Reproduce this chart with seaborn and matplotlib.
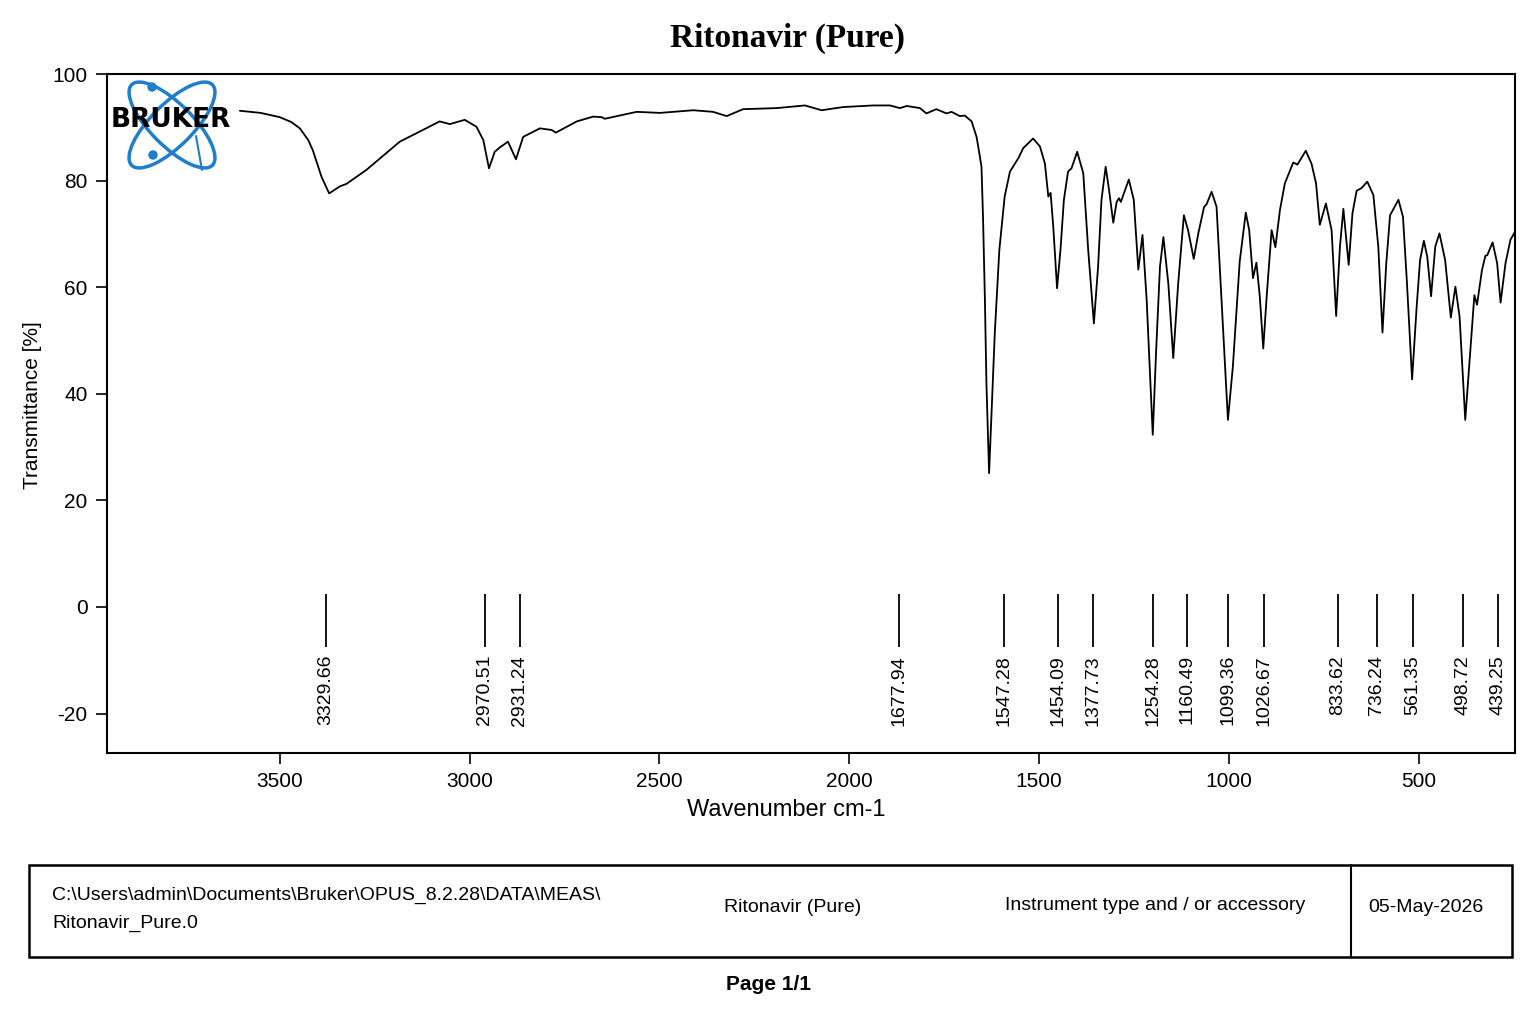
import numpy as np
import pandas as pd
import matplotlib
matplotlib.use('Agg')
import matplotlib.pyplot as plt
from matplotlib.patches import Ellipse, Rectangle, Circle
from matplotlib.lines import Line2D
import seaborn as sns

# spectrum (wavenumber cm-1, transmittance %)
wavenumber = [3605, 3550, 3500, 3470, 3447, 3425, 3413, 3390, 3370, 3342, 3324, 3272, 3184, 3079, 3052, 3013,
              2982, 2964, 2949, 2934, 2921, 2899, 2878, 2859, 2815, 2784, 2773, 2718, 2675, 2652,
              2644, 2560, 2499, 2411, 2359, 2323, 2280, 2192, 2117, 2073, 2016, 1937, 1893, 1867,
              1849, 1814, 1797, 1771, 1744, 1731, 1709, 1696, 1678, 1665, 1659, 1652, 1648, 1643,
              1639, 1632, 1626, 1617, 1605, 1591, 1577, 1555, 1542, 1516, 1498, 1485, 1476, 1470,
              1463, 1453, 1444, 1435, 1424, 1415, 1400, 1384, 1371, 1356, 1345, 1336, 1325, 1316,
              1305, 1296, 1290, 1285, 1264, 1251, 1239, 1228, 1217, 1201, 1192, 1182, 1173, 1160,
              1147, 1134, 1119, 1108, 1093, 1081, 1066, 1059, 1046, 1033, 1020, 1003, 990, 972,
              956, 947, 937, 928, 919, 910, 901, 888, 878, 866, 853, 831, 820, 798, 783, 771, 761,
              745, 730, 718, 708, 699, 685, 675, 664, 651, 636, 620, 607, 596, 586, 576, 554, 542,
              532, 518, 506, 497, 487, 478, 468, 457, 446, 431, 416, 404, 393, 378, 367, 354, 347,
              334, 325, 320, 306, 294, 285, 272, 259, 247]
transmittance = [93.1, 92.7, 91.9, 91.0, 89.8, 87.6, 85.7, 80.7, 77.6, 78.9, 79.4, 82.0, 87.3, 91.1, 90.6, 91.4,
                 90.1, 87.6, 82.3, 85.4, 86.2, 87.3, 84.0, 88.2, 89.8, 89.5, 89.0, 91.1, 92.0, 91.9,
                 91.6, 92.9, 92.7, 93.2, 92.9, 92.1, 93.4, 93.6, 94.1, 93.2, 93.8, 94.1, 94.1, 93.6,
                 94.0, 93.6, 92.6, 93.4, 92.6, 92.9, 92.1, 92.2, 91.1, 88.2, 85.7, 82.6, 73.2, 57.6,
                 42.0, 25.1, 35.7, 51.4, 67.0, 77.0, 81.7, 84.2, 86.1, 87.9, 86.4, 83.2, 77.0, 77.7,
                 71.4, 59.8, 67.0, 76.4, 81.7, 82.3, 85.4, 81.4, 67.0, 53.2, 63.8, 76.4, 82.6, 78.2,
                 72.1, 76.0, 76.7, 76.0, 80.2, 76.4, 63.3, 69.8, 57.6, 32.3, 48.2, 63.8, 69.4, 60.7,
                 46.7, 60.7, 73.5, 70.7, 65.3, 70.1, 75.0, 75.6, 77.9, 75.1, 57.6, 35.1, 45.1, 64.8,
                 74.0, 70.7, 61.7, 64.6, 58.2, 48.5, 58.2, 70.7, 67.5, 74.5, 79.5, 83.4, 83.0, 85.6,
                 83.2, 79.5, 71.7, 75.7, 70.7, 54.6, 67.6, 74.7, 64.2, 73.9, 78.1, 78.6, 79.8, 77.3,
                 67.6, 51.5, 64.5, 73.5, 76.4, 73.2, 61.4, 42.7, 56.3, 65.1, 68.7, 65.7, 58.3, 67.6,
                 70.1, 65.1, 54.3, 60.1, 54.5, 35.1, 45.7, 58.5, 56.7, 63.2, 65.9, 66.0, 68.4, 64.5,
                 57.1, 64.5, 68.9, 70.4]

# peak markers: where the ticks sit on the axis, and the labels printed under them
peak_pos = [3379, 2960, 2868, 1870, 1593, 1451, 1359, 1201, 1111, 1003, 908, 713, 611, 516, 384, 292]
peak_labels = ['3329.66', '2970.51', '2931.24', '1677.94', '1547.28', '1454.09', '1377.73', '1254.28',
               '1160.49', '1099.36', '1026.67', '833.62', '736.24', '561.35', '498.72', '439.25']

x_ticks = [3500, 3000, 2500, 2000, 1500, 1000, 500]
y_ticks = [100, 80, 60, 40, 20, 0, -20]

sns.set_theme(style='ticks')
plt.rcParams['font.family'] = ['Liberation Sans', 'DejaVu Sans']
plt.rcParams['text.color'] = 'black'
plt.rcParams['axes.labelcolor'] = 'black'
plt.rcParams['axes.unicode_minus'] = False

df = pd.DataFrame({'wn': wavenumber, 'T': transmittance})

fig = plt.figure(figsize=(15.36, 10.24), dpi=100)
ax = fig.add_axes([107 / 1536, 1 - 753 / 1024, 1408 / 1536, 679 / 1024])

sns.lineplot(data=df, x='wn', y='T', sort=False, estimator=None, color='black', linewidth=1.3, ax=ax)

ax.vlines(peak_pos, -7.5, 2.4, color='black', linewidth=1.3)
for p, lab in zip(peak_pos, peak_labels):
    ax.text(p, -9.0, lab, rotation=90, ha='center', va='top', fontsize=14, color='black')

ax.set_xlim(3955, 247)
ax.set_ylim(-27.4, 100)
ax.set_xticks(x_ticks)
ax.set_yticks(y_ticks)
ax.tick_params(axis='both', direction='out', length=8, width=1.2, labelsize=15, colors='black', pad=6)
for s in ax.spines.values():
    s.set_visible(True)
    s.set_linewidth(1.5)
    s.set_color('black')

ax.set_xlabel('Wavenumber cm-1', fontsize=17, color='black')
ax.set_ylabel('Transmittance [%]', fontsize=15, color='black')
ax.xaxis.set_label_coords((786 - 107) / 1408, (753 - 799) / 679)
ax.yaxis.set_label_coords((42 - 107) / 1408, (753 - 405) / 679)

fig.text(0.5124, 0.963, 'Ritonavir (Pure)', ha='center', va='center', fontsize=24,
         fontweight='bold', family=['Liberation Serif', 'DejaVu Serif'])

# logo
lax = fig.add_axes([105 / 1536, 1 - 172 / 1024, 135 / 1536, 94 / 1024])
lax.set_xlim(0, 135)
lax.set_ylim(94, 0)
lax.axis('off')
blue = '#1f7fcc'
lax.add_patch(Ellipse((67, 47), 114, 42, angle=45, fill=False, edgecolor=blue, linewidth=2.5))
lax.add_patch(Ellipse((67, 47), 114, 42, angle=-45, fill=False, edgecolor=blue, linewidth=2.5))
lax.add_patch(Circle((47, 9), 4, color=blue))
lax.add_patch(Circle((48, 77), 4, color=blue))
lax.add_line(Line2D([91, 97], [58, 92], color=blue, linewidth=1.5))
lax.text(66, 42, 'BRUKER', ha='center', va='center', fontsize=19, fontweight='heavy',
         color='black', family=['DejaVu Sans'])

# footer box
fig.add_artist(Rectangle((29 / 1536, 1 - 957 / 1024), (1512 - 29) / 1536, 92 / 1024,
                         transform=fig.transFigure, fill=False, edgecolor='black', linewidth=1.8))
fig.add_artist(Line2D([1351 / 1536, 1351 / 1536], [1 - 957 / 1024, 1 - 865 / 1024],
                      transform=fig.transFigure, color='black', linewidth=1.5))
fig.text(52 / 1536, 1 - 895 / 1024, 'C:\\Users\\admin\\Documents\\Bruker\\OPUS_8.2.28\\DATA\\MEAS\\',
         ha='left', va='center', fontsize=14)
fig.text(52 / 1536, 1 - 923 / 1024, 'Ritonavir_Pure.0', ha='left', va='center', fontsize=14)
fig.text(793 / 1536, 1 - 908 / 1024, 'Ritonavir (Pure)', ha='center', va='center', fontsize=14)
fig.text(1155 / 1536, 1 - 906 / 1024, 'Instrument type and / or accessory', ha='center', va='center', fontsize=14)
fig.text(1426 / 1536, 1 - 908 / 1024, '05-May-2026', ha='center', va='center', fontsize=14)
fig.text(768 / 1536, 1 - 984 / 1024, 'Page 1/1', ha='center', va='center', fontsize=15, fontweight='bold')

fig.savefig('out.png', dpi=100, facecolor='white')
